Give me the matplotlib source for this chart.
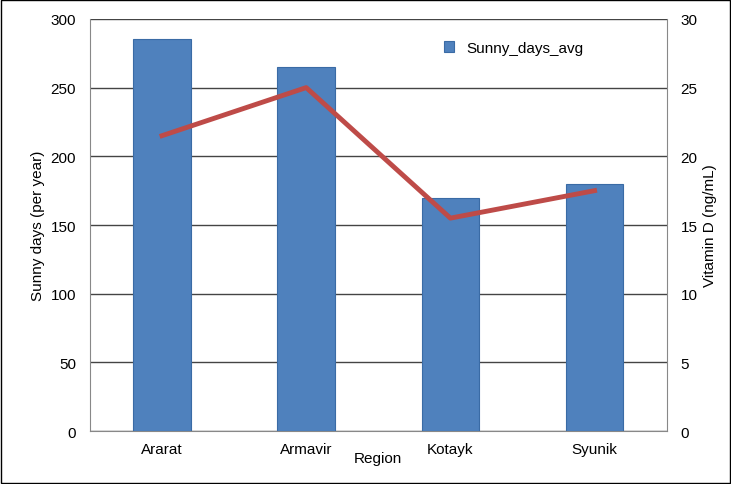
import matplotlib
matplotlib.use("Agg")
import matplotlib.pyplot as plt
from matplotlib.patches import Rectangle

regions = ["Ararat", "Armavir", "Kotayk", "Syunik"]
sunny_days = [285, 265, 170, 180]
vitamin_d = [21.5, 25, 15.5, 17.5]

plt.rcParams['font.family'] = ['Liberation Sans', 'DejaVu Sans']
fig = plt.figure(figsize=(7.31, 4.85), dpi=100)
ax = fig.add_axes([0.123, 0.109, 0.789, 0.85])
x = range(len(regions))
ax.bar(x, sunny_days, width=0.4, color="#4F81BD", edgecolor="#3A6BA5", linewidth=0.8, label="Sunny_days_avg", zorder=3)
ax.set_ylim(0, 300)
ax.set_yticks(range(0, 301, 50))
ax.set_xlim(-0.5, 3.5)
ax.set_xticks(list(x))
ax.set_xticklabels(regions, fontsize=11)
ax.tick_params(axis='y', labelsize=11, length=0, pad=10)
ax.tick_params(axis='x', length=0, pad=8)
ax.grid(axis='y', color='#444444', linewidth=1, zorder=0)
for s in ["top", "right"]:
    ax.spines[s].set_visible(False)
ax.spines["left"].set_color("#888888")
ax.spines["bottom"].set_color("#888888")
ax.set_ylabel("Sunny days (per year)", fontsize=11)
ax.set_xlabel("Region", fontsize=11, labelpad=-4)
ax.legend(loc="upper right", bbox_to_anchor=(0.88, 0.98), frameon=False, fontsize=11, handlelength=0.7)

ax2 = ax.twinx()
ax2.plot(list(x), vitamin_d, color="#BE4B48", linewidth=3.5, zorder=4)
ax2.set_ylim(0, 30)
ax2.set_yticks(range(0, 31, 5))
ax2.tick_params(axis='y', labelsize=11, length=0, pad=10)
for s in ["top", "left", "bottom"]:
    ax2.spines[s].set_visible(False)
ax2.spines["right"].set_color("#888888")
ax2.set_ylabel("Vitamin D (ng/mL)", fontsize=11)

fig.patches.append(Rectangle((0.001, 0.002), 0.997, 0.995, transform=fig.transFigure, fill=False, edgecolor="black", linewidth=1))
fig.savefig("out.png", dpi=100)
